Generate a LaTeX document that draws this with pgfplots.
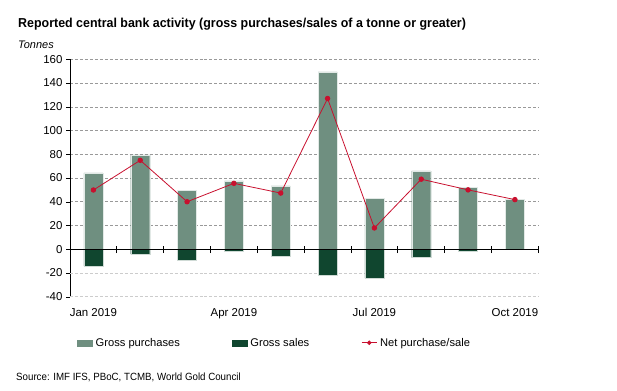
\documentclass[border=0pt]{standalone}
\usepackage{pgfplots}
\pgfplotsset{compat=1.18}
\usepackage{fontspec}
\setmainfont{Liberation Sans}
\definecolor{gp}{HTML}{6F8F80}
\definecolor{gs}{HTML}{10462F}
\definecolor{net}{HTML}{C8102E}
\pgfplotstableread{
x gp gs net
0 64.3 -14.3 49.9
1 79.4 -4.2 74.9
2 49.7 -9.6 40.0
3 57.5 -1.7 55.5
4 53.3 -5.9 47.3
5 149.4 -22.2 127.0
6 42.6 -24.4 17.9
7 66.0 -7.1 59.0
8 52.2 -1.7 50.0
9 41.8 0 41.8
}\datatable
\begin{document}
\begin{tikzpicture}
\useasboundingbox (0,0) rectangle (617bp,-391bp);
\begin{axis}[
  at={(70bp,-296.7bp)}, anchor=south west,
  scale only axis, width=468.3bp, height=237.4bp,
  xmin=-0.5, xmax=9.5, ymin=-40, ymax=160,
  axis lines=left, axis line style={-, black},
  x axis line style={draw=none},
  xtick={0,3,6,9}, xticklabels={Jan 2019,Apr 2019,Jul 2019,Oct 2019},
  x tick style={draw=none},
  xticklabel style={yshift=-4bp},
  ytick={0,20,...,160},
  extra y ticks={-40,-20},
  extra y tick style={grid style={gray!40, densely dashed, line width=0.7pt}},
  tick align=outside, major tick length=4bp,
  y tick style={black},
  ymajorgrids,
  grid style={gray!80, densely dashed, line width=0.5pt},
  tick label style={font=\fontsize{11.5}{13}\selectfont},
  /pgf/number format/assume math mode=true,
  legend columns=3,
  legend style={draw=none, fill=none, at={(0.437,-0.194)}, anchor=center,
    font=\fontsize{11.2}{13}\selectfont,
    /tikz/every even column/.append style={column sep=50bp},
    /tikz/every odd column/.append style={column sep=1bp}},
  clip=false,
]
\addplot[ybar, bar width=19bp, bar shift=0pt, fill=gp, draw=white!80!gp, line width=0.4pt,
  legend image code/.code={\fill[gp] (0bp,-3bp) rectangle (15bp,3bp);}]
  table[x=x, y=gp] {\datatable};
\addlegendentry{Gross purchases}
\addplot[ybar, bar width=19bp, bar shift=0pt, fill=gs, draw=white!80!gs, line width=0.4pt,
  legend image code/.code={\fill[gs] (0bp,-3bp) rectangle (15bp,3bp);}]
  table[x=x, y=gs] {\datatable};
\addlegendentry{Gross sales}
\addplot[net, line width=0.8pt, mark=*, mark size=2.3pt, mark options={fill=net, draw=net},
  legend image code/.code={\draw[net, line width=0.8pt] (0bp,0bp) -- (15bp,0bp); \fill[net] (7.5bp,0bp) circle (1.8bp);}]
  table[x=x, y=net] {\datatable};
\addlegendentry{Net purchase/sale}
\draw[black, line width=0.8pt] (axis cs:-0.5,0) -- (axis cs:9.5,0);
\pgfplotsinvokeforeach{0.5,1.5,...,9.5}{\draw[black, line width=0.8pt] ([yshift=-4bp]axis cs:#1,0) -- ([yshift=3bp]axis cs:#1,0);}
\end{axis}
\node[anchor=base west, font=\bfseries\fontsize{13}{15}\selectfont, inner sep=0pt] at (18bp,-27.3bp) {\scalebox{0.96}[1]{Reported central bank activity (gross purchases/sales of a tonne or greater)}};
\node[anchor=base west, font=\itshape\fontsize{11}{13}\selectfont, inner sep=0pt] at (18bp,-48.5bp) {Tonnes};
\node[anchor=base west, font=\fontsize{10.5}{12}\selectfont, inner sep=0pt] at (16bp,-380.7bp) {\scalebox{0.93}[1]{Source: IMF IFS, PBoC, TCMB, World Gold Council}};
\end{tikzpicture}
\end{document}
